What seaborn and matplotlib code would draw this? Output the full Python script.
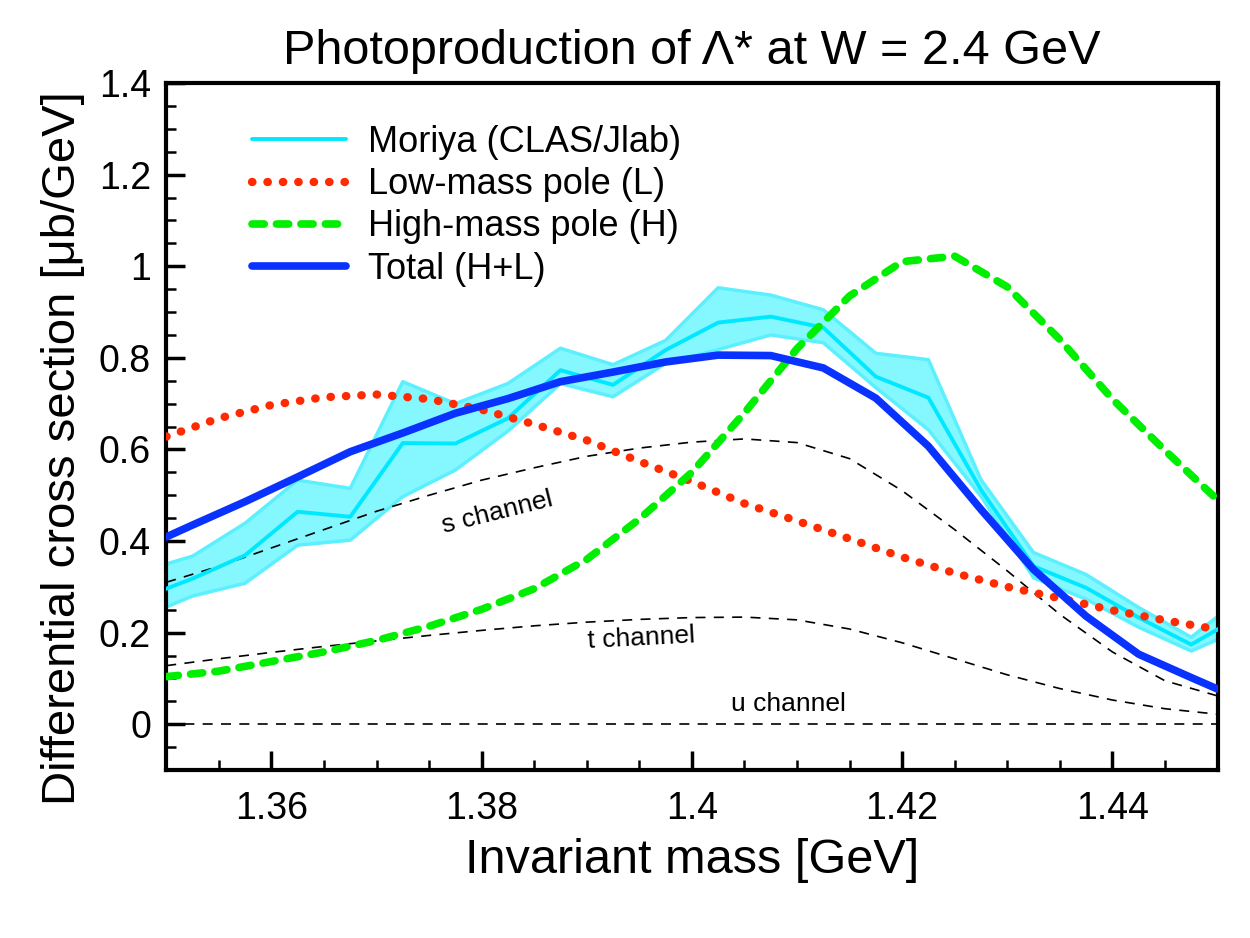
import numpy as np
import pandas as pd
import matplotlib
matplotlib.use("Agg")
import matplotlib.pyplot as plt
import seaborn as sns

# Moriya (CLAS/Jlab) data: bin centres, central value and band limits
mor_mass = [1.3475, 1.3525, 1.3575, 1.3625, 1.3675, 1.3725, 1.3775, 1.3825, 1.3875,
            1.3925, 1.3975, 1.4025, 1.4075, 1.4125, 1.4175, 1.4225, 1.4275, 1.4325,
            1.4375, 1.4425, 1.4475, 1.4525]
mor_val = [0.274, 0.318, 0.369, 0.464, 0.453, 0.614, 0.613, 0.668, 0.773, 0.741, 0.817,
           0.877, 0.890, 0.866, 0.759, 0.713, 0.512, 0.345, 0.298, 0.233, 0.174, 0.240]
mor_hi = [0.333, 0.367, 0.439, 0.533, 0.515, 0.748, 0.700, 0.744, 0.821, 0.785, 0.838,
          0.953, 0.937, 0.905, 0.810, 0.796, 0.534, 0.375, 0.327, 0.255, 0.190, 0.280]
mor_lo = [0.232, 0.280, 0.308, 0.391, 0.402, 0.497, 0.555, 0.640, 0.744, 0.715, 0.788,
          0.818, 0.850, 0.833, 0.735, 0.643, 0.498, 0.320, 0.273, 0.212, 0.160, 0.210]

# Total (H+L)
tot_mass = [1.35, 1.3525, 1.3575, 1.3625, 1.3675, 1.3725, 1.3775, 1.3825, 1.3875, 1.3925,
            1.3975, 1.4025, 1.4075, 1.4125, 1.4175, 1.4225, 1.4275, 1.4325, 1.4375,
            1.4425, 1.4475, 1.45]
tot_val = [0.409, 0.435, 0.486, 0.540, 0.595, 0.636, 0.679, 0.711, 0.748, 0.769, 0.791,
           0.806, 0.805, 0.778, 0.712, 0.607, 0.469, 0.338, 0.236, 0.153, 0.102, 0.077]

# model curves on a common grid
mass = [1.35, 1.355, 1.36, 1.365, 1.37, 1.375, 1.38, 1.385, 1.39, 1.395, 1.40, 1.405,
        1.41, 1.415, 1.42, 1.425, 1.43, 1.435, 1.44, 1.445, 1.45]
low_pole = [0.628, 0.668, 0.697, 0.714, 0.720, 0.710, 0.687, 0.655, 0.620, 0.574, 0.530,
            0.482, 0.444, 0.405, 0.365, 0.330, 0.300, 0.275, 0.249, 0.227, 0.207]
high_pole = [0.104, 0.116, 0.137, 0.158, 0.183, 0.214, 0.251, 0.296, 0.360, 0.448, 0.550,
             0.680, 0.820, 0.935, 1.010, 1.022, 0.955, 0.840, 0.710, 0.598, 0.490]
s_chan = [0.310, 0.345, 0.385, 0.425, 0.465, 0.500, 0.533, 0.560, 0.585, 0.603, 0.616,
          0.623, 0.615, 0.580, 0.510, 0.425, 0.335, 0.240, 0.158, 0.095, 0.062]
t_chan = [0.128, 0.143, 0.157, 0.170, 0.182, 0.194, 0.205, 0.215, 0.223, 0.229, 0.233,
          0.234, 0.228, 0.208, 0.178, 0.143, 0.108, 0.078, 0.053, 0.034, 0.022]
u_chan = [0.0] * len(mass)

sns.set_style("ticks")
plt.rcParams["font.family"] = ["Liberation Sans", "DejaVu Sans"]
plt.rcParams.update({"text.color": "black", "axes.labelcolor": "black",
                     "xtick.color": "black", "ytick.color": "black",
                     "axes.edgecolor": "black"})

fig = plt.figure(figsize=(12.5, 9.38), dpi=100)
ax = fig.add_axes([0.133, 0.179, 0.841, 0.7325])

# data band
ax.fill_between(mor_mass, mor_lo, mor_hi, color="#84f7ff", lw=0, zorder=1)
sns.lineplot(x=mor_mass, y=mor_hi, color="#5cf0ff", lw=2.5, ax=ax, zorder=1.5)
sns.lineplot(x=mor_mass, y=mor_lo, color="#5cf0ff", lw=2.5, ax=ax, zorder=1.5)

# channel contributions
for yy in [s_chan, t_chan, u_chan]:
    sns.lineplot(x=mass, y=yy, color="black", lw=1.2, linestyle=(0, (6, 5)), ax=ax, zorder=2)

sns.lineplot(x=mor_mass, y=mor_val, color="#00e8ff", lw=2.8, ax=ax, zorder=3,
             label="Moriya (CLAS/Jlab)")
sns.lineplot(x=mass, y=low_pole, color="#ff2a00", lw=6, linestyle=(0, (0.05, 1.8)),
             dash_capstyle="round", ax=ax, zorder=4, label="Low-mass pole (L)")
sns.lineplot(x=mass, y=high_pole, color="#00ee00", lw=5.5, linestyle=(0, (1.6, 1.6)),
             dash_capstyle="round", ax=ax, zorder=4, label="High-mass pole (H)")
sns.lineplot(x=tot_mass, y=tot_val, color="#0a32ff", lw=5.5, ax=ax, zorder=5,
             label="Total (H+L)")

ax.text(1.3815, 0.462, "s channel", fontsize=19, rotation=14, ha="center", va="center")
ax.text(1.3952, 0.188, "t channel", fontsize=19, rotation=3, ha="center", va="center")
ax.text(1.4092, 0.045, "u channel", fontsize=19, ha="center", va="center")

ax.set_xlim(1.35, 1.45)
ax.set_ylim(-0.1, 1.4)
ax.set_xticks([1.36, 1.38, 1.40, 1.42, 1.44])
ax.set_xticklabels(["1.36", "1.38", "1.4", "1.42", "1.44"])
ax.set_yticks([0, 0.2, 0.4, 0.6, 0.8, 1.0, 1.2, 1.4])
ax.set_yticklabels(["0", "0.2", "0.4", "0.6", "0.8", "1", "1.2", "1.4"])
ax.xaxis.set_minor_locator(matplotlib.ticker.MultipleLocator(0.005))
ax.yaxis.set_minor_locator(matplotlib.ticker.MultipleLocator(0.05))
ax.tick_params(which="both", direction="in", top=False, right=False, labelsize=27, width=2.5)
ax.tick_params(which="major", length=14)
ax.tick_params(which="minor", length=7.5, width=1.8)
ax.tick_params(axis="x", which="major", pad=15)
ax.tick_params(axis="y", which="major", pad=11)
for sp in ax.spines.values():
    sp.set_linewidth(3)
    sp.set_visible(True)

ax.set_xlabel("Invariant mass [GeV]", fontsize=35)
ax.set_ylabel("Differential cross section [μb/GeV]", fontsize=34)
ax.xaxis.set_label_coords(0.5, -0.099)
ax.yaxis.set_label_coords(-0.077, 0.469)
ax.set_title("Photoproduction of Λ* at W = 2.4 GeV", fontsize=35, pad=14)

leg = ax.legend(loc="upper left", bbox_to_anchor=(0.068, 0.96), frameon=False, fontsize=26,
                handlelength=2.6, handletextpad=0.6, labelspacing=0.2, borderaxespad=0)

fig.savefig("out.png", dpi=100)
